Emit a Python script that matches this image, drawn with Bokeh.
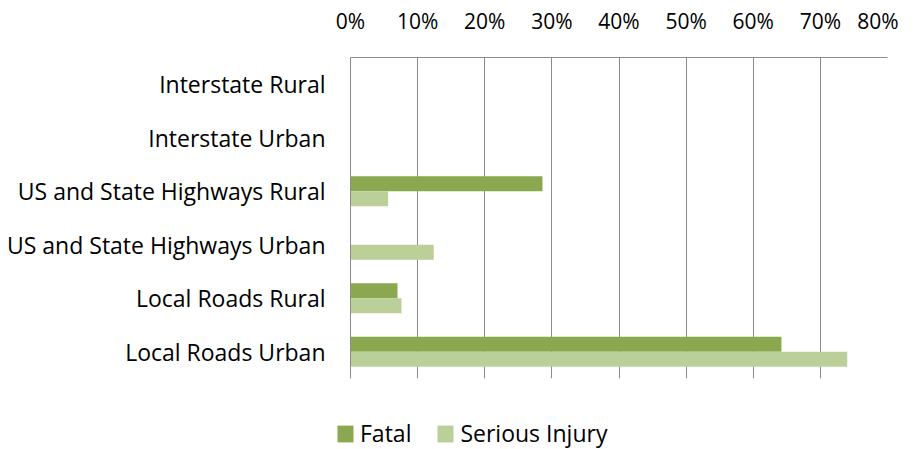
from bokeh.plotting import figure
from bokeh.layouts import column
from bokeh.models import ColumnDataSource, FactorRange, FixedTicker, Legend, LegendItem, Range1d
from bokeh.transform import dodge
from bokeh.embed import file_html
from bokeh.resources import INLINE

categories = ["Interstate Rural", "Interstate Urban", "US and State Highways Rural",
              "US and State Highways Urban", "Local Roads Rural", "Local Roads Urban"]
fatal = [0, 0, 28.6, 0, 7.0, 64.2]
serious = [0, 0, 5.6, 12.4, 7.6, 74.0]
series_names = ["Fatal", "Serious Injury"]
tick_values = [0, 10, 20, 30, 40, 50, 60, 70, 80]
tick_labels = ["0%", "10%", "20%", "30%", "40%", "50%", "60%", "70%", "80%"]

FONT = "Open Sans"
GRID = "#8c8c8c"
C_FATAL = "#8ba74f"
C_SER = "#bbcf98"

source = ColumnDataSource(dict(cat=categories, fatal=fatal, serious=serious))

p = figure(y_range=FactorRange(*reversed(categories)), x_range=Range1d(0, 80),
           x_axis_location="above", width=898, height=390,
           output_backend="svg", toolbar_location=None,
           min_border_left=350, min_border_right=11, min_border_top=57, min_border_bottom=12)

p.hbar(y=dodge("cat", 0.14, range=p.y_range), right="fatal", left=0, height=0.28,
       source=source, fill_color=C_FATAL, line_color=None)
p.hbar(y=dodge("cat", -0.14, range=p.y_range), right="serious", left=0, height=0.28,
       source=source, fill_color=C_SER, line_color=None)

p.outline_line_color = None
p.ygrid.grid_line_color = None
p.xgrid.grid_line_color = GRID
p.xgrid.grid_line_width = 1
p.xgrid.ticker = FixedTicker(ticks=tick_values)

xa = p.xaxis[0]
xa.ticker = FixedTicker(ticks=tick_values)
xa.major_label_overrides = {v: l for v, l in zip(tick_values, tick_labels)}
xa.major_tick_line_color = None
xa.minor_tick_line_color = None
xa.major_tick_out = 0
xa.minor_tick_out = 0
xa.axis_line_color = GRID
xa.major_label_standoff = 23
xa.major_label_text_font = FONT
xa.major_label_text_font_size = "21px"
xa.major_label_text_color = "#000000"

ya = p.yaxis[0]
ya.major_tick_line_color = None
ya.minor_tick_line_color = None
ya.major_tick_out = 0
ya.minor_tick_out = 0
ya.axis_line_color = GRID
ya.major_label_standoff = 25
ya.major_label_text_font = FONT
ya.major_label_text_font_size = "23px"
ya.major_label_text_color = "#000000"

# legend strip below the chart (legend glyphs come from hidden renderers of the same data)
lg = figure(y_range=FactorRange(*reversed(categories)), x_range=Range1d(0, 80),
            width=898, height=59, output_backend="svg", toolbar_location=None,
            x_axis_type=None, y_axis_type=None, min_border=0)
lg.frame_align = False
lg.outline_line_color = None
lg.xgrid.visible = False
lg.ygrid.visible = False
h1 = lg.hbar(y="cat", right="fatal", left=0, height=0.28, source=source,
             fill_color=C_FATAL, line_color=None, visible=False)
h2 = lg.hbar(y="cat", right="serious", left=0, height=0.28, source=source,
             fill_color=C_SER, line_color=None, visible=False)

legend = Legend(items=[LegendItem(label=series_names[0], renderers=[h1]),
                       LegendItem(label=series_names[1], renderers=[h2])],
                orientation="horizontal", location=(335, 0),
                glyph_width=20, glyph_height=21, label_standoff=5, spacing=24,
                padding=0, margin=0, border_line_color=None, background_fill_alpha=0,
                inactive_fill_alpha=0,
                label_text_font=FONT, label_text_font_size="23px", label_text_color="#000000")
lg.add_layout(legend)

layout = column(p, lg, spacing=0)
open("out.html", "w").write(file_html(layout, INLINE))
